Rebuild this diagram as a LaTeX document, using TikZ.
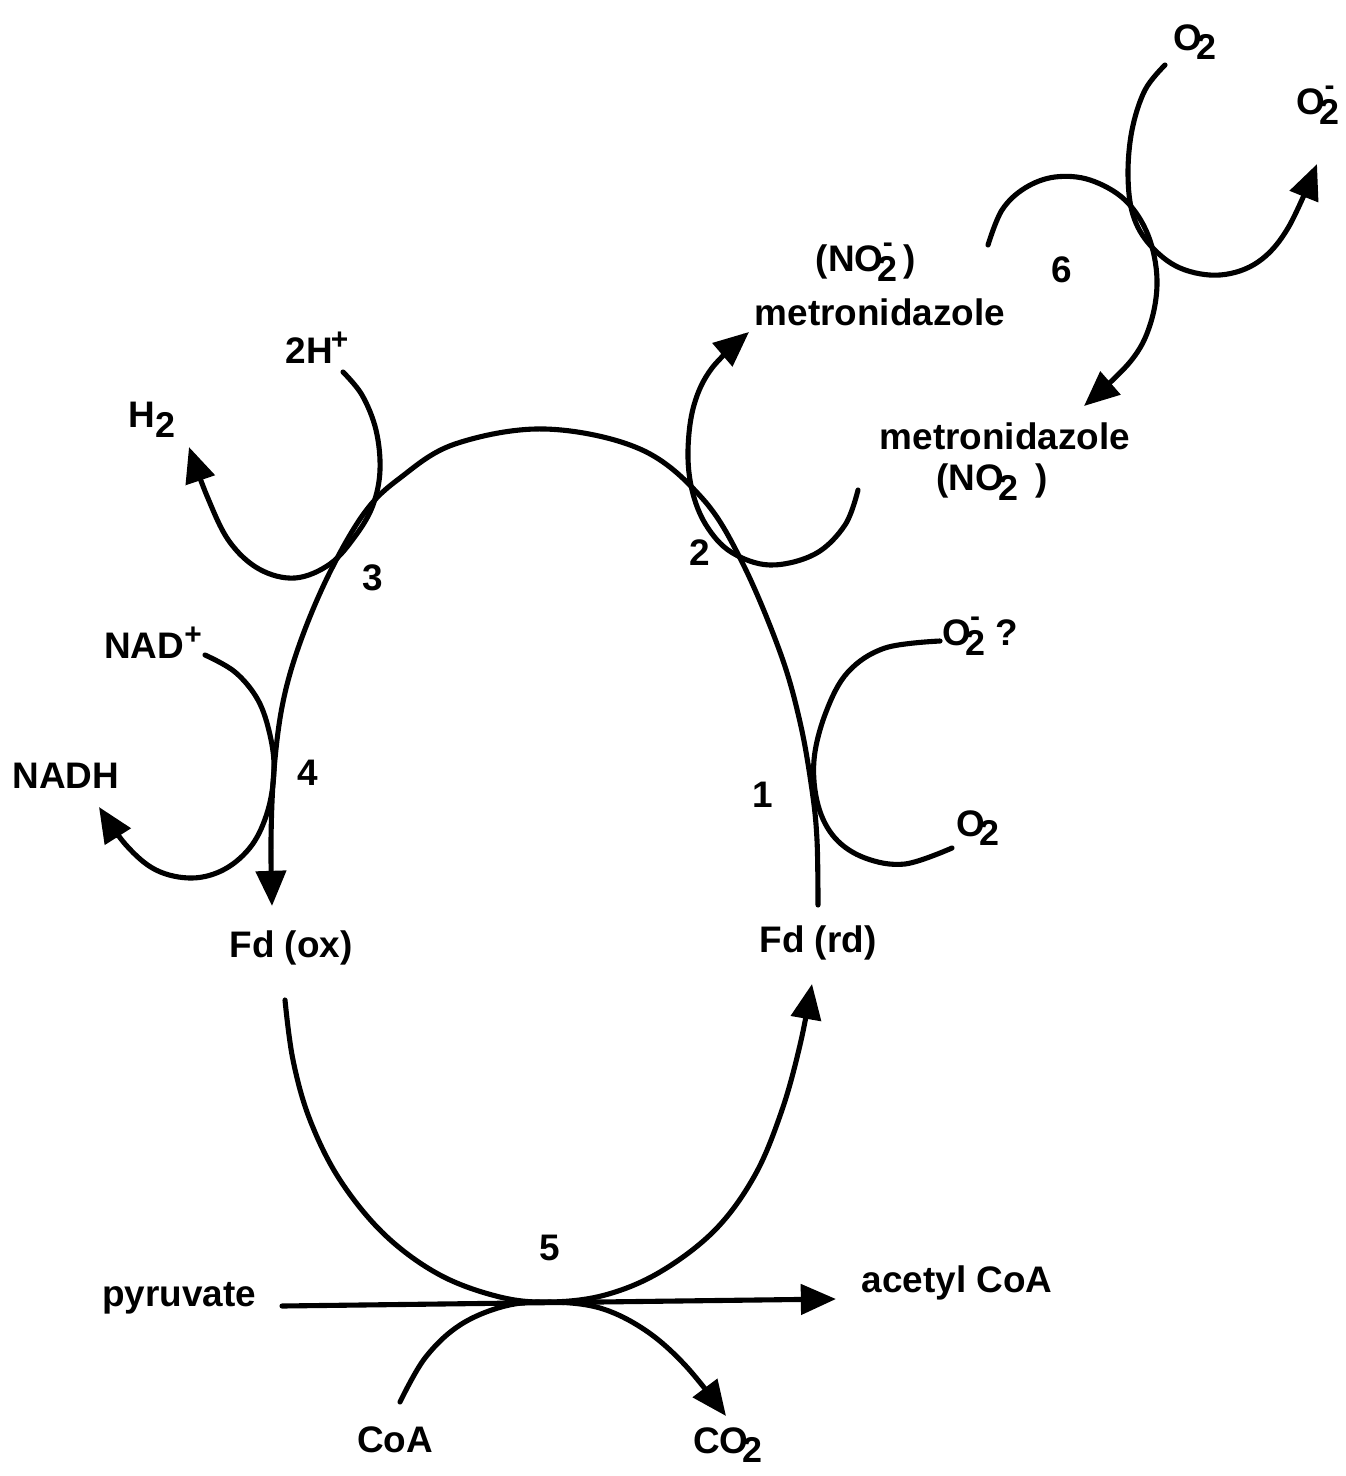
\documentclass[tikz,border=0pt]{standalone}
\usepackage{fontspec}
\setmainfont{Liberation Sans}
\usetikzlibrary{arrows.meta}
\newcommand\lsub[1]{\raisebox{-0.5ex}{\fontsize{10.2}{10}\selectfont #1}}
\newcommand\lsup[1]{\raisebox{0.7ex}{\fontsize{8.5}{9}\selectfont #1}}
\newcommand\stk[2]{\rlap{\raisebox{1.0ex}{\fontsize{8.5}{9}\selectfont\,#1}}\raisebox{-0.5ex}{\fontsize{10.2}{10}\selectfont #2}}
\begin{document}
\begin{tikzpicture}[x=0.01cm,y=-0.01cm,line width=1.45pt,line cap=round,
  lbl/.style={font=\fontsize{10.5}{12}\selectfont\bfseries,inner sep=0pt},
  arr/.style={-{Triangle[length=10pt,width=8.5pt]}}]
\useasboundingbox (0,0) rectangle (1346,1476);
% labels
\node[lbl] (o2top) at (1195,42) {O\kern-0.15em\lsub{2}};
\node[lbl] (o2mtop) at (1318,105) {O\kern-0.15em\stk{-}{2}};
\node[lbl] (no2a) at (866,262) {(NO\kern-0.15em\stk{-}{2}\,)};
\node[lbl] (metA) at (880,312) {metronidazole};
\node[lbl] (six) at (1062,270) {6};
\node[lbl] (metB) at (1005,436) {metronidazole};
\node[lbl] (no2b) at (992,482) {(NO\kern-0.15em\lsub{2}\ \,)};
\node[lbl] (twoH) at (317,348) {2H\kern-0.05em\lsup{+}};
\node[lbl] (h2) at (152,420) {H\lsub{2}};
\node[lbl] (three) at (373,578) {3};
\node[lbl] (two) at (700,553) {2};
\node[lbl] (nadp) at (153,643) {NAD\lsup{+}};
\node[lbl] (four) at (308,773) {4};
\node[lbl] (nadh) at (66,776) {NADH};
\node[lbl] (one) at (763,795) {1};
\node[lbl] (o2mq) at (980,636) {O\kern-0.15em\stk{-}{2}\ ?};
\node[lbl] (o2r) at (978,828) {O\kern-0.15em\lsub{2}};
\node[lbl] (fdox) at (291,948) {Fd (ox)};
\node[lbl] (fdrd) at (818,943) {Fd (rd)};
\node[lbl] (five) at (550,1248) {5};
\node[lbl] (pyr) at (179,1298) {pyruvate};
\node[lbl] (acoa) at (957,1283) {acetyl CoA};
\node[lbl] (coa) at (395,1440) {CoA};
\node[lbl] (co2) at (728,1445) {CO\kern-0.15em\lsub{2}};
% end coordinates
\coordinate (mR) at (818,905);
\coordinate (mL) at (272,906);
\coordinate (r3s) at (343,372);
\coordinate (r3e) at (189,447);
\coordinate (r4s) at (205,655);
\coordinate (r4e) at (99,807);
\coordinate (r2s) at (858,490);
\coordinate (r2e) at (749,332);
\coordinate (r1s) at (940,641);
\coordinate (r1e) at (952,848);
\coordinate (b5s) at (285,1000);
\coordinate (b5e) at (812,984);
\coordinate (pyrS) at (282,1306);
\coordinate (pyrE) at (836,1299);
\coordinate (coaS) at (400,1402);
\coordinate (co2E) at (726,1416);
\coordinate (r6as) at (1165,65);
\coordinate (r6ae) at (1317,164);
\coordinate (r6bs) at (988,245);
\coordinate (r6be) at (1084,406);
% main loop
\draw[arr] plot[smooth,tension=0.6] coordinates {(mR) (817,840) (812,790) (800,722) (780,652) (742,562) (702,498) (640,449) (545,429) (455,444) (400,478) (365,512) (330,572) (301,640) (283,702) (274,770) (271,840) (mL)};
% reaction 3
\draw[arr] plot[smooth,tension=0.6] coordinates {(r3s) (362,395) (376,430) (380,470) (373,505) (356,535) (330,564) (295,578) (259,569) (229,541) (207,496) (r3e)};
% reaction 4
\draw[arr] plot[smooth,tension=0.6] coordinates {(r4s) (235,672) (258,700) (270,735) (274,770) (268,810) (252,845) (225,869) (192,878) (156,870) (126,845) (r4e)};
% reaction 2
\draw[arr] plot[smooth,tension=0.6] coordinates {(r2s) (845,525) (815,554) (770,565) (731,552) (706,525) (692,490) (688,450) (694,405) (712,368) (r2e)};
% reaction 1
\draw plot[smooth,tension=0.6] coordinates {(r1s) (885,648) (848,672) (826,712) (814,760) (818,805) (835,838) (865,858) (905,864) (r1e)};
% reaction 5
\draw[arr] plot[smooth,tension=0.6] coordinates {(b5s) (293,1060) (310,1120) (340,1180) (385,1235) (440,1275) (500,1297) (550,1302) (605,1295) (660,1272) (715,1230) (755,1175) (782,1110) (800,1045) (b5e)};
\draw[arr] (pyrS) -- (pyrE);
\draw[arr] plot[smooth,tension=0.6] coordinates {(coaS) (425,1358) (460,1325) (505,1306) (550,1302) (600,1308) (645,1330) (685,1365) (co2E)};
% reaction 6
\draw[arr] plot[smooth,tension=0.6] coordinates {(r6as) (1145,90) (1132,130) (1128,175) (1133,215) (1150,245) (1180,268) (1220,275) (1258,262) (1288,228) (r6ae)};
\draw[arr] plot[smooth,tension=0.6] coordinates {(r6bs) (1002,210) (1025,188) (1055,177) (1090,180) (1125,200) (1148,235) (1157,280) (1150,325) (1130,362) (r6be)};
\end{tikzpicture}
\end{document}
